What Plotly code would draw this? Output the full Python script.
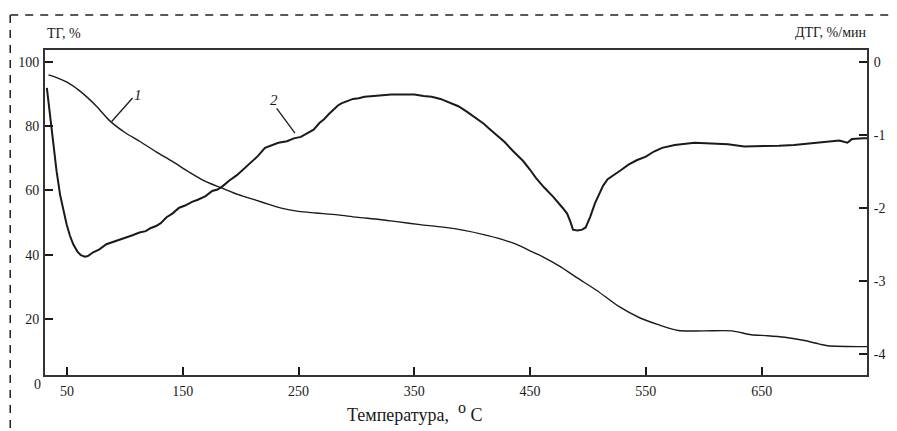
import plotly.graph_objects as go

# TG curve (curve 1), left axis, %
tg_t = [34, 40, 50, 61, 75, 87, 100, 113, 127, 141, 155, 170, 184, 198, 213, 225, 235, 250, 265, 284,
        300, 320, 335, 355, 375, 393, 410, 425, 435, 444, 452, 461, 475, 490, 507, 527, 545, 560, 578,
        600, 624, 641, 655, 670, 687, 700, 707, 741]
tg_v = [95.9, 95.2, 93.6, 90.9, 86.3, 81.6, 78.0, 75.2, 72.0, 69.0, 65.8, 62.7, 60.7, 58.7, 57.0, 55.6,
        54.5, 53.5, 53.0, 52.4, 51.7, 51.0, 50.3, 49.4, 48.6, 47.6, 46.3, 44.9, 43.7, 42.3, 40.9, 39.4,
        36.6, 33.0, 29.1, 23.9, 20.4, 18.4, 16.5, 16.4, 16.4, 15.2, 14.9, 14.4, 13.4, 12.3, 11.8, 11.5]

# DTG curve (curve 2), right axis, %/min
dtg_t = [32.6, 35, 38.3, 41, 44, 47, 49.7, 52.5, 55.4, 59, 62, 65.4, 68, 72.6, 78, 84, 90, 96, 100, 106,
         112.6, 118, 122, 126.9, 131, 136, 141, 146.9, 152, 158, 163, 169.7, 175.4, 180, 184, 190, 197,
         204, 210, 215, 221, 226, 232.6, 240, 246, 252, 258, 263, 268, 272, 276, 280, 284, 287, 292, 297,
         302, 307, 315, 322, 330, 340, 350, 358, 365, 372.6, 380, 388, 395, 403, 410, 415, 421, 428, 435,
         440, 444, 450, 455, 462, 470, 478, 482, 485, 487, 491, 495, 498, 502, 506, 510, 513, 517, 522,
         528, 535, 542, 550, 557, 564, 575, 592, 605, 621, 635, 650, 665, 678, 695, 707, 717, 724, 728,
         738, 741]
dtg_v = [-0.36, -0.70, -1.14, -1.50, -1.82, -2.05, -2.23, -2.38, -2.50, -2.60, -2.65, -2.67, -2.66, -2.61,
         -2.57, -2.50, -2.47, -2.44, -2.42, -2.38, -2.34, -2.32, -2.28, -2.25, -2.21, -2.13, -2.08, -2.00,
         -1.97, -1.92, -1.89, -1.84, -1.77, -1.75, -1.71, -1.63, -1.55, -1.45, -1.37, -1.29, -1.18, -1.15,
         -1.11, -1.09, -1.05, -1.03, -0.98, -0.93, -0.84, -0.79, -0.72, -0.66, -0.60, -0.57, -0.54, -0.51,
         -0.50, -0.48, -0.47, -0.46, -0.45, -0.45, -0.45, -0.47, -0.48, -0.51, -0.56, -0.61, -0.68, -0.77,
         -0.85, -0.92, -1.00, -1.10, -1.22, -1.30, -1.36, -1.48, -1.59, -1.72, -1.85, -2.00, -2.08, -2.20,
         -2.30, -2.31, -2.30, -2.27, -2.12, -1.94, -1.80, -1.70, -1.61, -1.55, -1.49, -1.41, -1.35, -1.30,
         -1.23, -1.18, -1.14, -1.11, -1.12, -1.13, -1.16, -1.16, -1.15, -1.14, -1.11, -1.09, -1.08, -1.11,
         -1.06, -1.05, -1.05]

x_ticks = [50, 150, 250, 350, 450, 550, 650]
left_ticks = [20, 40, 60, 80, 100]
right_ticks = [0, -1, -2, -3, -4]
right_ticktext = ["0", "-1", "-2", "-3", "-4"]

FONT = "Liberation Serif, Times New Roman, serif"
INK = "#1a1a1a"

fig = go.Figure()
fig.add_trace(go.Scatter(x=tg_t, y=tg_v, mode="lines",
                         line=dict(color=INK, width=1.4, shape="spline", smoothing=0.8),
                         yaxis="y", showlegend=False, hoverinfo="skip"))
fig.add_trace(go.Scatter(x=dtg_t, y=dtg_v, mode="lines", line=dict(color=INK, width=2),
                         yaxis="y2", showlegend=False, hoverinfo="skip"))

fig.update_layout(
    width=897, height=431,
    margin=dict(l=45, r=24, t=50, b=56),
    paper_bgcolor="white", plot_bgcolor="white",
    font=dict(family=FONT, color=INK, size=14),
    xaxis=dict(range=[31, 741], tickvals=x_ticks, ticks="inside", ticklen=8, tickwidth=1.5,
               tickcolor=INK, showline=True, linecolor="#333", linewidth=2, mirror=True,
               showgrid=False, zeroline=False, tickfont=dict(size=14, family=FONT),
               ticklabelstandoff=2),
    yaxis=dict(range=[2.7, 103.6], tickvals=left_ticks, ticks="inside", ticklen=8, tickwidth=1.5,
               tickcolor=INK, showline=True, linecolor="#333", linewidth=2, showgrid=False,
               zeroline=False, tickfont=dict(size=14, family=FONT), ticklabelstandoff=1),
    yaxis2=dict(range=[-4.29, 0.16], overlaying="y", side="right", tickvals=right_ticks,
                ticktext=right_ticktext, ticks="inside", ticklen=8, tickwidth=1.5, tickcolor=INK,
                showline=True, linecolor="#333", linewidth=2, showgrid=False, zeroline=False,
                tickfont=dict(size=14, family=FONT), ticklabelstandoff=2),
)

# dashed frame around the figure (top and left)
fig.add_shape(type="line", xref="paper", yref="paper", x0=-0.0423, x1=1.029, y0=1.1077, y1=1.1077,
              line=dict(color="#222", width=1.5, dash="8px,7px"))
fig.add_shape(type="line", xref="paper", yref="paper", x0=-0.0423, x1=-0.0423, y0=1.1077, y1=-0.18,
              line=dict(color="#222", width=1.5, dash="8px,7px"))

# leader lines for curve labels
fig.add_shape(type="line", xref="x", yref="y", x0=88.6, y0=81.4, x1=106.6, y1=88.7,
              line=dict(color=INK, width=1.3))
fig.add_shape(type="line", xref="x", yref="y", x0=231.1, y0=85.5, x1=246.9, y1=77.8,
              line=dict(color=INK, width=1.3))

ann = [
    dict(x=111.5, y=89.6, xref="x", yref="y", text="<i>1</i>", showarrow=False,
         font=dict(size=15, family=FONT)),
    dict(x=229, y=88.0, xref="x", yref="y", text="<i>2</i>", showarrow=False,
         font=dict(size=15, family=FONT)),
    dict(x=0, y=1.052, xref="paper", yref="paper", xanchor="left", yanchor="middle",
         text="ТГ, %", showarrow=False, font=dict(size=14, family=FONT)),
    dict(x=1.003, y=1.055, xref="paper", yref="paper", xanchor="right", yanchor="middle",
         text="ДТГ, %/мин", showarrow=False, font=dict(size=14, family=FONT)),
    dict(x=-0.0096, y=-0.028, xref="paper", yref="paper", xanchor="center", yanchor="middle",
         text="0", showarrow=False, font=dict(size=14, family=FONT)),
    dict(x=0.449, y=-0.115, xref="paper", yref="paper", xanchor="center", yanchor="middle",
         text="Температура,  <sup><span style='font-size:16px'>o</span></sup> C", showarrow=False,
         font=dict(size=18, family=FONT)),
]
fig.update_layout(annotations=ann)

fig.write_html("out.html", config={"displayModeBar": False},
               post_script="document.body.style.margin='0';document.body.style.overflow='hidden';")
